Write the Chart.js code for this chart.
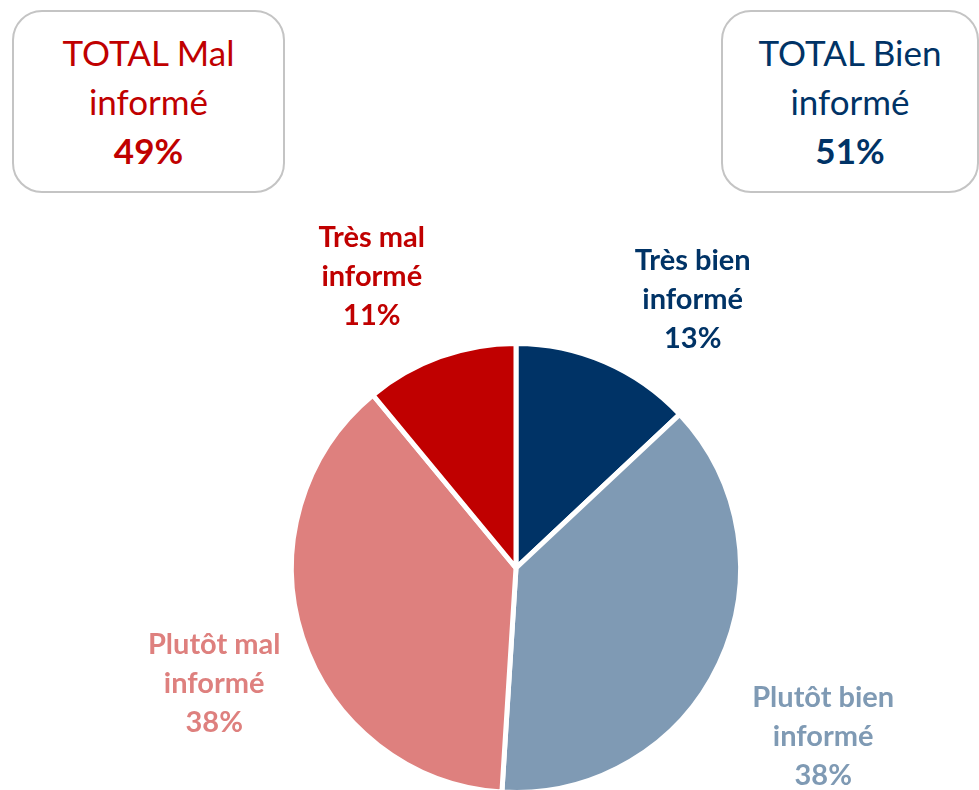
<!DOCTYPE html>
<html lang="fr">
<head>
<meta charset="UTF-8">
<title>Information</title>
<style>
  html,body{margin:0;padding:0;background:#fff;overflow:hidden;width:979px;height:790px;}
  #wrap{position:relative;width:979px;height:790px;}
  #pie{position:absolute;left:0;top:0;}
  .box{position:absolute;top:10px;height:179px;border:2.5px solid #c4c4c4;border-radius:30px;
       background:#fff;font-family:Lato,'Open Sans',sans-serif;font-size:35px;line-height:49px;
       text-align:center;display:flex;flex-direction:column;justify-content:center;}
  .box b{font-weight:700;}
  #boxMal{left:12px;width:269px;color:#c00000;}
  #boxBien{left:721px;width:254px;color:#003366;}
</style>
</head>
<body>
<div id="wrap">
  <canvas id="pie" width="979" height="810"></canvas>
  <div class="box" id="boxMal"><div>TOTAL Mal</div><div>informé</div><b id="totMal"></b></div>
  <div class="box" id="boxBien"><div>TOTAL Bien</div><div>informé</div><b id="totBien"></b></div>
</div>
<script src="https://cdn.jsdelivr.net/npm/chart.js"></script>
<script>
const labels = ['Très bien informé', 'Plutôt bien informé', 'Plutôt mal informé', 'Très mal informé']
const labelLines = [['Très bien', 'informé'], ['Plutôt bien', 'informé'], ['Plutôt mal', 'informé'], ['Très mal', 'informé']]
const values = [13, 38, 38, 11]
const colors = ['#003366', '#7f9ab4', '#de807e', '#c00000']

// totals shown in the two boxes
document.getElementById('totBien').innerText = (values[0] + values[1]) + '%'
document.getElementById('totMal').innerText = (values[2] + values[3]) + '%'

// where each outside label sits: angle shift (deg) and distance as a factor of the radius
const labelShift = [10, 3.5, -3, -6.5]
const labelDist = [1.43, 1.56, 1.44, 1.45]

const outsideLabels = {
  id: 'outsideLabels',
  afterDatasetsDraw(chart) {
    const c = chart.ctx
    const meta = chart.getDatasetMeta(0)
    c.save()
    c.font = 'bold 29px Lato, "Open Sans", sans-serif'
    c.textAlign = 'center'
    c.textBaseline = 'middle'
    meta.data.forEach((arc, i) => {
      const p = arc.getProps(['x', 'y', 'startAngle', 'endAngle', 'outerRadius'], true)
      const a = (p.startAngle + p.endAngle) / 2 + labelShift[i] * Math.PI / 180
      const cx = p.x + Math.cos(a) * p.outerRadius * labelDist[i]
      const cy = p.y + Math.sin(a) * p.outerRadius * labelDist[i]
      const lines = labelLines[i].concat([values[i] + '%'])
      c.fillStyle = colors[i]
      lines.forEach((t, j) => c.fillText(t, cx, cy + (j - 1) * 39))
    })
    c.restore()
  }
}

new Chart(document.getElementById('pie'), {
  type: 'pie',
  data: {
    labels: labels,
    datasets: [{
      data: values,
      backgroundColor: colors,
      borderColor: '#ffffff',
      borderWidth: 5
    }]
  },
  options: {
    responsive: false,
    animation: false,
    layout: {padding: {left: 289, right: 236, top: 341, bottom: 15}},
    plugins: {legend: {display: false}, tooltip: {enabled: false}}
  },
  plugins: [outsideLabels]
})
</script>
</body>
</html>
